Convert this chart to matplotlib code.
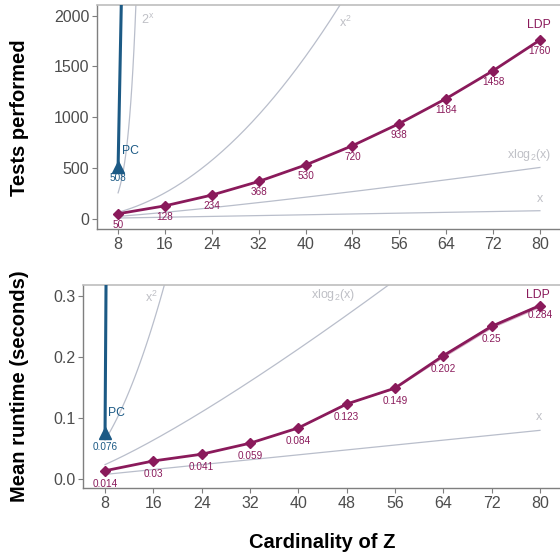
import numpy as np
import matplotlib
matplotlib.use("Agg")
import matplotlib.pyplot as plt

plt.rcParams['font.family'] = ['Liberation Sans', 'DejaVu Sans']
plt.rcParams['mathtext.default'] = 'regular'

cardinality = [8, 16, 24, 32, 40, 48, 56, 64, 72, 80]
ldp_tests = [50, 128, 234, 368, 530, 720, 938, 1184, 1458, 1760]
ldp_runtime = [0.014, 0.03, 0.041, 0.059, 0.084, 0.123, 0.149, 0.202, 0.25, 0.284]
ldp_runtime_lo = [0.014, 0.03, 0.041, 0.059, 0.084, 0.123, 0.148, 0.199, 0.247, 0.281]
ldp_runtime_hi = [0.014, 0.03, 0.041, 0.059, 0.084, 0.123, 0.150, 0.205, 0.253, 0.287]
pc_x = [8, 16]
pc_tests = [508, 24000]
pc_runtime = [0.076, 12.0]

LDP_C = '#8A1A5B'
PC_C = '#1C5A85'
REF_C = '#B9BECB'
REFTXT_C = '#BFC0C6'
TICK_C = '#4D4D4D'

W, H = 560, 557
fig = plt.figure(figsize=(W / 100, H / 100), dpi=100)

def px_axes(l, t, r, b):
    return fig.add_axes([l / W, 1 - b / H, (r - l) / W, (b - t) / H])

ax1 = px_axes(97, 5, 561, 229)
ax2 = px_axes(83.3, 285, 561.7, 488)

xs = np.linspace(8, 80, 400)

def style(ax, yticks, ylim):
    ax.set_xlim(4.4, 83.6)
    ax.set_ylim(*ylim)
    ax.set_xticks(cardinality)
    ax.set_yticks(yticks)
    for s in ['left', 'bottom']:
        ax.spines[s].set_color('#7F7F7F')
        ax.spines[s].set_linewidth(1.0)
    ax.spines['top'].set_color('#BDBDBD')
    ax.spines['top'].set_linewidth(1.2)
    ax.spines['right'].set_visible(False)
    ax.tick_params(colors='#7F7F7F', labelcolor=TICK_C, labelsize=11.5, length=3.5, width=0.8, pad=2)

# ---- Top panel: tests performed
ax = ax1
ax.plot(xs[xs <= 11.2], 2 ** xs[xs <= 11.2], color=REF_C, lw=0.9, zorder=1)
ax.plot(xs, xs ** 2, color=REF_C, lw=0.9, zorder=1)
ax.plot(xs, xs * np.log2(xs), color=REF_C, lw=0.9, zorder=1)
ax.plot(xs, xs, color=REF_C, lw=0.9, zorder=1)
ax.text(13.1, 1958, '2$^x$', color=REFTXT_C, fontsize=9, ha='center', va='center')
ax.text(46.8, 1935, 'x$^2$', color=REFTXT_C, fontsize=9, ha='center', va='center')
ax.text(78.2, 630, 'xlog$_2$(x)', color=REFTXT_C, fontsize=9, ha='center', va='center')
ax.text(80, 197, 'x', color=REFTXT_C, fontsize=9, ha='center', va='center')

ax.plot(pc_x, pc_tests, color=PC_C, lw=2.2, marker='^', markersize=9, zorder=4)
ax.text(8.7, 669, 'PC', color=PC_C, fontsize=8.8, ha='left', va='center')
ax.annotate(str(pc_tests[0]), (pc_x[0], pc_tests[0]), xytext=(0, -11), textcoords='offset pixels',
            color=PC_C, fontsize=7.2, ha='center', va='center')

ax.plot(cardinality, ldp_tests, color=LDP_C, lw=2.0, marker='D', markersize=5.5, zorder=5)
for x, y in zip(cardinality, ldp_tests):
    ax.annotate(str(y), (x, y), xytext=(0, -11), textcoords='offset pixels',
                color=LDP_C, fontsize=7.2, ha='center', va='center', zorder=6)
ax.text(79.9, 1910, 'LDP', color=LDP_C, fontsize=8.8, ha='center', va='center')
style(ax, [0, 500, 1000, 1500, 2000], (-100, 2105))

# ---- Bottom panel: mean runtime
ax = ax2
k = 0.001
ax.plot(xs[xs <= 18], k * xs[xs <= 18] ** 2, color=REF_C, lw=0.9, zorder=1)
ax.plot(xs[xs <= 56], k * xs[xs <= 56] * np.log2(xs[xs <= 56]), color=REF_C, lw=0.9, zorder=1)
ax.plot(xs, k * xs, color=REF_C, lw=0.9, zorder=1)
ax.text(15.7, 0.298, 'x$^2$', color=REFTXT_C, fontsize=9, ha='center', va='center')
ax.text(45.8, 0.301, 'xlog$_2$(x)', color=REFTXT_C, fontsize=9, ha='center', va='center')
ax.text(79.9, 0.102, 'x', color=REFTXT_C, fontsize=9, ha='center', va='center')

ax.plot(pc_x, pc_runtime, color=PC_C, lw=2.2, marker='^', markersize=9, zorder=4)
ax.text(8.55, 0.109, 'PC', color=PC_C, fontsize=8.8, ha='left', va='center')
ax.annotate(str(pc_runtime[0]), (pc_x[0], pc_runtime[0]), xytext=(0, -14), textcoords='offset pixels',
            color=PC_C, fontsize=7.2, ha='center', va='center')

ax.fill_between(cardinality, ldp_runtime_lo, ldp_runtime_hi, color=LDP_C, alpha=0.35, lw=0, zorder=4)
ax.plot(cardinality, ldp_runtime, color=LDP_C, lw=2.0, marker='D', markersize=5.5, zorder=5)
for x, y in zip(cardinality, ldp_runtime):
    off = -9 if x == 80 else -13
    ax.annotate(f'{y:g}', (x, y), xytext=(0, off), textcoords='offset pixels',
                color=LDP_C, fontsize=7.2, ha='center', va='center', zorder=6)
ax.text(79.7, 0.301, 'LDP', color=LDP_C, fontsize=8.8, ha='center', va='center')
style(ax, [0.0, 0.1, 0.2, 0.3], (-0.0142, 0.3175))
ax.yaxis.set_major_formatter(matplotlib.ticker.FormatStrFormatter('%.1f'))

# ---- Axis titles
fig.text(20 / W, 1 - 118 / H, 'Tests performed', rotation=90, fontsize=14.5, fontweight='bold',
         ha='center', va='center')
fig.text(20 / W, 1 - 386.5 / H, 'Mean runtime (seconds)', rotation=90, fontsize=14.5, fontweight='bold',
         ha='center', va='center')
fig.text(322.5 / W, 1 - 542 / H, 'Cardinality of Z', fontsize=14.5, fontweight='bold',
         ha='center', va='center')

fig.savefig('out.png', dpi=100)
